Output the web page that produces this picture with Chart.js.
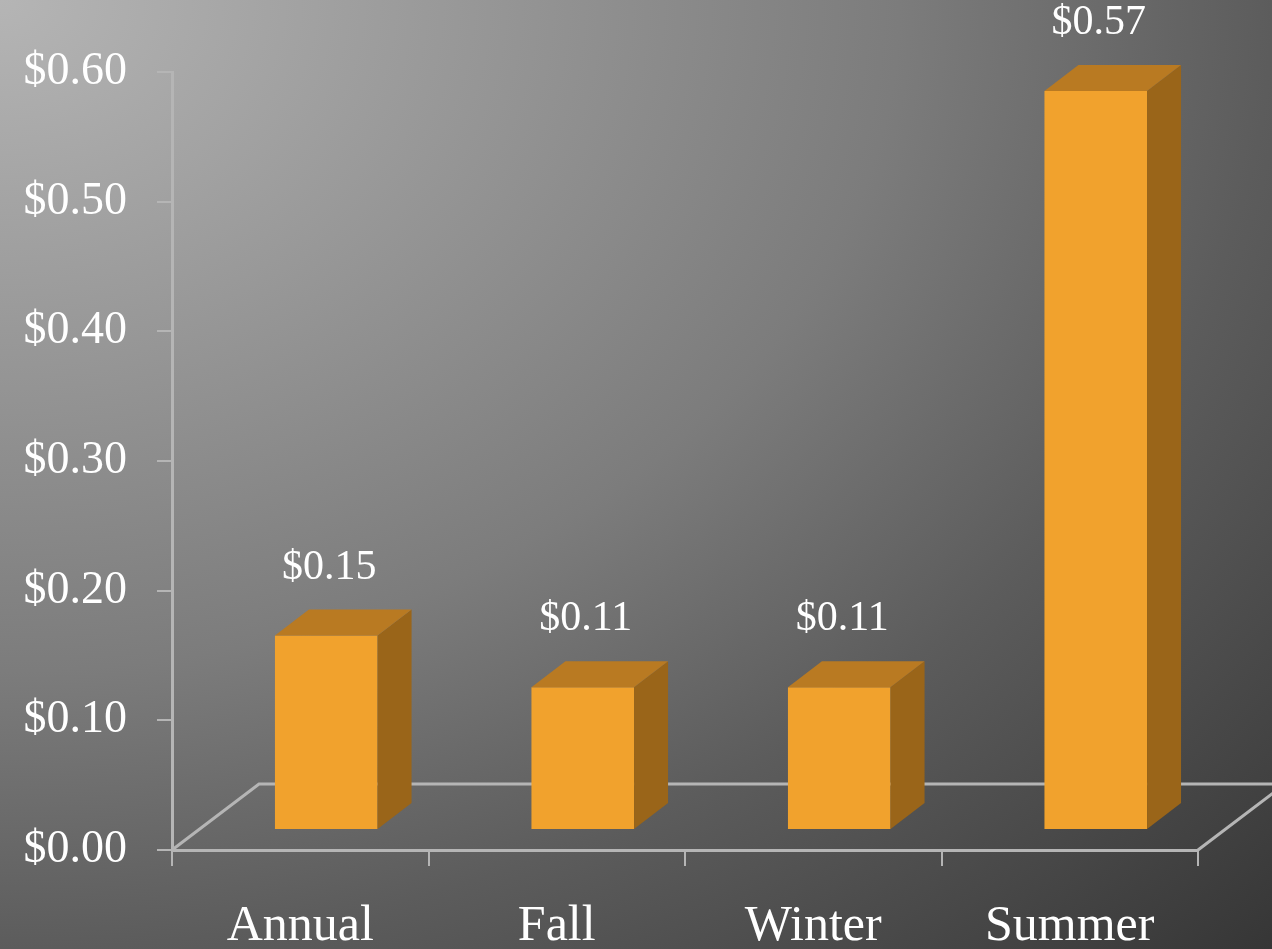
<!DOCTYPE html>
<html>
<head>
<meta charset="utf-8">
<script src="https://cdn.jsdelivr.net/npm/chart.js@4.4.1/dist/chart.umd.min.js"></script>
<style>
  html, body { margin: 0; padding: 0; }
  body {
    width: 1272px; height: 949px; overflow: hidden;
    background: radial-gradient(ellipse farthest-corner at 0 0, #b5b5b5 0%, #7c7c7c 50%, #5c5c5c 70.7%, #363636 100%);
  }
  #wrap { position: relative; width: 1272px; height: 949px; }
</style>
</head>
<body>
<div id="wrap"><canvas id="chart"></canvas></div>
<script>
// values
const categories = ['Annual', 'Fall', 'Winter', 'Summer'];
const costs = [0.15, 0.11, 0.11, 0.57];
const tickMin = 0;
const tickMax = 0.6;
const tickStep = 0.1;

const AXIS_COLOR = '#b5b5b5';
const FRONT = '#f1a22d';
const SIDE = '#9a6519';
const TOP = '#b97a22';

// 3D look: floor depth and bar depth (pixels)
const FLOOR_DX = 87, FLOOR_DY = 66;
const SHIFT_X = 26, SHIFT_Y = 20;
const BAR_DX = 34, BAR_DY = 26;

const money = v => '$' + Number(v).toFixed(2);

const bars3d = {
  id: 'bars3d',
  beforeDatasetsDraw(chart) {
    const { ctx, chartArea: a } = chart;
    // floor of the 3D box
    ctx.save();
    ctx.strokeStyle = AXIS_COLOR;
    ctx.lineWidth = 3;
    ctx.beginPath();
    ctx.moveTo(a.left, a.bottom);
    ctx.lineTo(a.left + FLOOR_DX, a.bottom - FLOOR_DY);
    ctx.lineTo(chart.width, a.bottom - FLOOR_DY);
    ctx.moveTo(a.right, a.bottom);
    ctx.lineTo(a.right + FLOOR_DX, a.bottom - FLOOR_DY);
    ctx.stroke();
    ctx.restore();
    // push the bars into the middle of the depth
    ctx.save();
    ctx.translate(SHIFT_X, -SHIFT_Y);
  },
  afterDatasetsDraw(chart) {
    const { ctx } = chart;
    const meta = chart.getDatasetMeta(0);
    meta.data.forEach(bar => {
      const l = bar.x - bar.width / 2, r = bar.x + bar.width / 2;
      const t = bar.y, b = bar.base;
      // side face
      ctx.fillStyle = SIDE;
      ctx.beginPath();
      ctx.moveTo(r, t);
      ctx.lineTo(r + BAR_DX, t - BAR_DY);
      ctx.lineTo(r + BAR_DX, b - BAR_DY);
      ctx.lineTo(r, b);
      ctx.closePath();
      ctx.fill();
      // top face
      ctx.fillStyle = TOP;
      ctx.beginPath();
      ctx.moveTo(l, t);
      ctx.lineTo(l + BAR_DX, t - BAR_DY);
      ctx.lineTo(r + BAR_DX, t - BAR_DY);
      ctx.lineTo(r, t);
      ctx.closePath();
      ctx.fill();
    });
    ctx.restore();

    // value labels above the bars
    ctx.save();
    ctx.fillStyle = '#ffffff';
    ctx.font = '42px "Liberation Serif"';
    ctx.textAlign = 'center';
    ctx.textBaseline = 'middle';
    meta.data.forEach((bar, i) => {
      ctx.fillText(money(costs[i]), bar.x + SHIFT_X + 3, bar.y - SHIFT_Y - BAR_DY - 42);
    });
    ctx.restore();
  }
};

new Chart(document.getElementById('chart'), {
  type: 'bar',
  data: {
    labels: categories,
    datasets: [{
      data: costs,
      backgroundColor: FRONT,
      borderWidth: 0,
      barPercentage: 0.4,
      categoryPercentage: 1
    }]
  },
  options: {
    responsive: true,
    maintainAspectRatio: false,
    animation: false,
    layout: { padding: { top: 72, right: 74, left: 0, bottom: 0 } },
    plugins: {
      legend: { display: false },
      tooltip: { enabled: false }
    },
    scales: {
      x: {
        afterFit: s => { s.height = 99; },
        grid: { drawOnChartArea: false, color: AXIS_COLOR, lineWidth: 2, tickLength: 16, offset: true },
        border: { color: AXIS_COLOR, width: 3 },
        ticks: { color: '#ffffff', padding: 31, font: { family: '"Liberation Serif"', size: 50 } }
      },
      y: {
        min: tickMin,
        max: tickMax,
        afterFit: s => { s.width = 172; },
        grid: { drawOnChartArea: false, color: AXIS_COLOR, lineWidth: 2, tickLength: 15 },
        border: { color: AXIS_COLOR, width: 3 },
        ticks: {
          stepSize: tickStep,
          color: '#ffffff',
          padding: 30,
          font: { family: '"Liberation Serif"', size: 46 },
          callback: v => money(v)
        }
      }
    }
  },
  plugins: [bars3d]
});
</script>
</body>
</html>
